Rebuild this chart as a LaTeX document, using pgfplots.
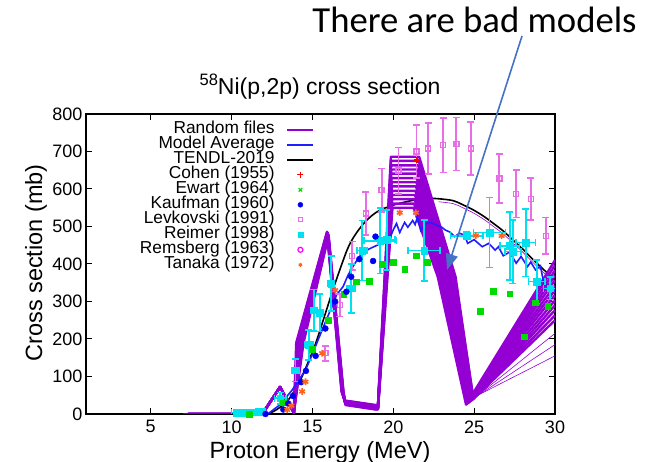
\documentclass[border=0pt]{standalone}
\usepackage{pgfplots}
\pgfplotsset{compat=1.18}
\usepackage{fontspec}
\setmainfont{Liberation Sans}
\newfontfamily\carlito{Carlito}
\usetikzlibrary{arrows.meta}
\definecolor{rfviolet}{RGB}{148,0,211}
\definecolor{mavg}{RGB}{30,30,255}
\definecolor{levk}{RGB}{232,110,232}
\definecolor{reim}{RGB}{0,225,240}
\definecolor{ewart}{RGB}{0,220,0}
\definecolor{kauf}{RGB}{0,0,240}
\definecolor{rems}{RGB}{255,0,255}
\definecolor{tanaka}{RGB}{255,100,30}
\definecolor{cohen}{RGB}{255,0,0}
\definecolor{arrowblue}{RGB}{68,114,196}

\pgfplotstableread{
x y e
15.8 162 20
16.7 290 30
17.45 422 38
18.3 535 57
19.28 597 58
20.32 649 62
21.43 700 70
22.16 708 68
23.08 717 73
23.9 720 71
24.8 708 71
26.56 628 65
27.6 587 63
28.5 573 56
29.44 475 49
}\levktab

\pgfplotstableread{
x y ex ey
10.3 4 0.3 5
10.8 4 0.3 5
11.3 5 0.3 5
11.8 6 0.3 5
13.0 42 0.35 15
13.95 117 0.2 30
14.77 184 0.25 40
15.08 277 0.15 55
15.45 270 0.15 50
16.17 348 0.2 73
17.4 335 0.25 65
18.07 436 0.3 80
19.2 462 1.0 87
19.6 464 0.5 80
21.9 436 1.0 82
24.55 475 1.0 10
25.95 484 1.0 93
27.2 448 0.6 90
27.4 433 0.5 85
28.2 457 0.6 90
28.87 353 0.5 58
29.7 335 0.4 30
}\reimtab

\begin{document}
\begin{tikzpicture}
\useasboundingbox (0,0) rectangle (666pt,462pt);
\begin{axis}[
  at={(86pt,48pt)}, anchor=south west,
  scale only axis, width=469pt, height=300pt,
  xmin=1, xmax=30, ymin=0, ymax=800,
  xtick={5,10,...,30}, ytick={0,100,...,800},
  tick align=inside, major tick length=6pt,
  axis line style={line width=1.2pt},
  every tick/.style={black, line width=1pt},
  tick label style={font=\fontsize{18}{18}\selectfont},
  /pgf/number format/assume math mode=true,
  x tick label style={yshift=-3pt},
  legend cell align=right, legend plot pos=right,
  legend style={at={(0.487,0.973)}, anchor=north east, draw=none, fill=none,
    font=\fontsize{17.3}{17.3}\selectfont, inner sep=0pt, row sep=0pt, column sep=12pt,
    nodes={inner sep=0pt, text height=11pt, text depth=4pt}},
  legend image code/.code={\draw[mark repeat=2,mark phase=2,#1] plot coordinates {(0pt,0pt) (13pt,0pt) (26pt,0pt)};},
]
\addlegendimage{rfviolet, line width=1.6pt}
\addlegendentry{Random files}
\addlegendimage{mavg, line width=1.6pt}
\addlegendentry{Model Average}
\addlegendimage{black, line width=1.6pt}
\addlegendentry{TENDL-2019}
\addlegendimage{only marks, mark=+, mark size=3pt, cohen, line width=1.2pt}
\addlegendentry{Cohen (1955)}
\addlegendimage{only marks, mark=x, mark size=2.5pt, ewart, line width=1.2pt}
\addlegendentry{Ewart (1964)}
\addlegendimage{only marks, mark=*, mark size=2.5pt, kauf}
\addlegendentry{Kaufman (1960)}
\addlegendimage{only marks, mark=square, mark size=2.2pt, levk, line width=1pt}
\addlegendentry{Levkovski (1991)}
\addlegendimage{only marks, mark=square*, mark size=2.5pt, reim}
\addlegendentry{Reimer (1998)}
\addlegendimage{only marks, mark=o, mark size=2.5pt, rems, line width=1.2pt}
\addlegendentry{Remsberg (1963)}
\addlegendimage{only marks, mark=asterisk, mark size=2pt, tanaka, line width=1pt}
\addlegendentry{Tanaka (1972)}

% TENDL-2019
\addplot[forget plot, black, line width=1.6pt, smooth] coordinates {
(7,0)(12,0)(12.5,5)(13.0,18)(13.5,37)(14.0,70)(14.36,100)(14.8,145)(15.2,188)(15.8,268)(16.4,348)(17.14,437)(17.6,475)(18.17,508)(18.7,530)(19.2,544)(20,557)(20.8,566)(21.5,572)(22.1,575)(22.8,574)(23.7,569)(24.3,558)(24.96,544)(25.6,527)(26.2,508)(26.8,488)(27.4,464)(28.0,440)(28.66,411)(29.3,385)(30,357)};

% Random files
\pgfplotsset{rf/.style={forget plot, rfviolet, line width=2.4pt, line join=round}}
\addplot[rf] coordinates {(7.3,0)(11.9,0)(13.0,72)(13.85,4)(14.00,190)(15.90,486)(16.80,60)(17.00,36)(18.9,24)(19.05,20)(19.85,686)(21.60,686)(23.85,366)(24.95,40)(30,250)};
\addplot[rf] coordinates {(7.3,0)(11.9,0)(13.0,72)(13.85,4)(14.04,190)(15.91,485)(16.81,60)(17.00,35)(18.9,23)(19.05,19)(19.86,675)(21.57,675)(23.76,366)(24.91,39)(30,263)};
\addplot[rf] coordinates {(7.3,0)(11.9,0)(13.0,72)(13.85,4)(14.08,190)(15.92,484)(16.82,60)(17.01,34)(18.9,22)(19.05,19)(19.87,663)(21.54,663)(23.67,366)(24.88,38)(30,277)};
\addplot[rf] coordinates {(7.3,0)(11.9,0)(13.0,72)(13.85,4)(14.11,190)(15.93,484)(16.83,60)(17.01,33)(18.9,21)(19.05,18)(19.88,652)(21.51,652)(23.58,366)(24.84,36)(30,290)};
\addplot[rf] coordinates {(7.3,0)(11.9,0)(13.0,72)(13.85,4)(14.15,190)(15.93,483)(16.84,60)(17.02,32)(18.9,20)(19.05,17)(19.88,641)(21.48,641)(23.48,366)(24.80,35)(30,303)};
\addplot[rf] coordinates {(7.3,0)(11.9,0)(13.0,72)(13.85,4)(14.19,190)(15.94,482)(16.85,60)(17.02,31)(18.9,19)(19.05,17)(19.89,629)(21.45,629)(23.39,366)(24.76,34)(30,317)};
\addplot[rf] coordinates {(7.3,0)(11.9,0)(13.0,72)(13.85,4)(14.23,190)(15.95,481)(16.86,60)(17.03,30)(18.9,18)(19.05,16)(19.90,618)(21.43,618)(23.30,366)(24.73,33)(30,330)};
\addplot[rf] coordinates {(7.3,0)(11.9,0)(13.0,72)(13.85,4)(14.26,190)(15.96,480)(16.87,60)(17.03,29)(18.9,17)(19.05,15)(19.91,607)(21.40,607)(23.21,366)(24.69,31)(30,343)};
\addplot[rf] coordinates {(7.3,0)(11.9,0)(13.0,72)(13.85,4)(14.30,190)(15.97,479)(16.88,60)(17.03,28)(18.9,16)(19.05,15)(19.92,595)(21.37,595)(23.12,366)(24.65,30)(30,357)};
\addplot[rf] coordinates {(7.3,0)(11.9,0)(13.0,72)(13.85,4)(14.34,190)(15.98,479)(16.89,60)(17.04,27)(18.9,15)(19.05,14)(19.93,584)(21.34,584)(23.03,366)(24.61,29)(30,370)};
\addplot[rf] coordinates {(7.3,0)(11.9,0)(13.0,72)(13.85,4)(14.38,190)(15.98,478)(16.90,60)(17.04,26)(18.9,14)(19.05,13)(19.93,573)(21.31,573)(22.93,366)(24.58,28)(30,383)};
\addplot[rf] coordinates {(7.3,0)(11.9,0)(13.0,72)(13.85,4)(14.41,190)(15.99,477)(16.91,60)(17.05,25)(18.9,13)(19.05,13)(19.94,561)(21.28,561)(22.84,366)(24.54,26)(30,397)};
\addplot[rf] coordinates {(7.3,0)(11.9,0)(13.0,72)(13.85,4)(14.45,190)(16.00,476)(16.92,60)(17.05,24)(18.9,12)(19.05,12)(19.95,550)(21.25,550)(22.75,366)(24.50,25)(30,410)};
% thin outliers
\addplot[forget plot, rfviolet, line width=0.6pt] coordinates {(21.6,686)(23.85,366)(24.95,40)(30,215)};
\addplot[forget plot, rfviolet, line width=0.6pt] coordinates {(21.6,686)(23.85,366)(24.97,42)(30,185)};
\addplot[forget plot, rfviolet, line width=0.6pt] coordinates {(21.6,686)(23.85,366)(25.0,45)(30,155)};
\addplot[forget plot, rfviolet, line width=0.6pt, smooth] coordinates {(22.8,566)(23.7,561)(24.3,550)(24.96,536)(25.6,519)(26.2,500)(26.8,480)(27.4,456)(28.0,432)(28.66,403)(29.3,377)(30,349)};

% Model Average
\addplot[forget plot, mavg, line width=1.6pt] coordinates {
(7,0)(12,0)(12.3,2)(13,25)(13.75,64)(14.57,117)(15.0,160)(15.6,224)(16.2,286)(16.5,318)(16.9,340)(17.2,370)(17.6,400)(18.0,425)(18.5,440)(19.0,450)(19.5,462)(19.8,470)(20.0,491)(20.2,508)(20.4,484)(20.7,511)(20.9,498)(21.2,516)(21.35,505)(21.5,526)(21.7,489)(22.0,507)(22.3,511)(22.7,503)(23.0,498)(23.2,491)(23.5,485)(23.8,473)(24.1,482)(24.4,477)(24.6,455)(25.0,465)(25.5,446)(25.9,455)(26.3,437)(26.5,446)(26.8,422)(27.2,432)(27.6,402)(27.9,420)(28.3,393)(28.5,405)(28.8,384)(29.1,395)(29.3,350)(29.6,340)(30,330)};

% Levkovski
\addplot[forget plot, only marks, mark=square, mark size=2.5pt, color=levk, line width=1.3pt,
  error bars/y dir=both, error bars/y explicit,
  error bars/error mark=-,
  error bars/error bar style={color=levk, line width=1.8pt, solid, opacity=1},
  error bars/error mark options={rotate=90, color=levk, line width=1.6pt, mark size=3.5pt}]
  table[x=x, y=y, y error=e] {\levktab};
% Reimer
\addplot[forget plot, only marks, mark=square*, mark size=3.3pt, color=reim,
  error bars/x dir=both, error bars/x explicit,
  error bars/y dir=both, error bars/y explicit,
  error bars/error mark=-,
  error bars/error bar style={color=reim, line width=1.7pt, solid, opacity=1},
  error bars/error mark options={rotate=90, color=reim, line width=1.6pt, mark size=3.5pt}]
  table[x=x, y=y, x error=ex, y error=ey] {\reimtab};
% Ewart
\addplot[forget plot, only marks, mark=square*, mark size=2.9pt, ewart] coordinates {
(11.1,0)(13.2,30)(15.0,172)(16.0,251)(16.93,319)(17.7,353)(18.5,355)(19.3,400)(20.0,404)(20.7,387)(21.4,422)(22.1,404)(25.37,275)(26.2,328)(27.2,321)(28.1,206)(28.8,297)(29.55,288)};
% Kaufman
\addplot[forget plot, only marks, mark=*, mark size=3pt, kauf] coordinates {
(12.1,0)(13.2,12)(13.5,28)(13.8,48)(14.3,85)(14.6,115)(15.2,155)(15.8,228)(16.4,300)(17.1,326)(17.4,366)(17.9,413)(18.75,408)(18.9,473)};
% Tanaka
\addplot[forget plot, only marks, mark=asterisk, mark size=3.3pt, tanaka, line width=1.6pt] coordinates {
(13.44,11)(13.7,22)(14.36,60)(14.57,86)(15.6,162)(16.4,330)(20.4,537)(21.4,537)(25.1,476)(26.7,475)};
% Cohen
\addplot[forget plot, only marks, mark=+, mark size=3.3pt, cohen, line width=1.6pt] coordinates {(21.46,677)};
\end{axis}

\node[anchor=base] at (320pt,367pt) {\raisebox{9pt}{\fontsize{16.5}{16.5}\selectfont 58}\fontsize{23}{23}\selectfont Ni(p,2p) cross section};
\node[rotate=90] at (36pt,199pt) {\fontsize{23.5}{23.5}\selectfont Cross section (mb)};
\node[anchor=base] at (320pt,3.5pt) {\fontsize{23.5}{23.5}\selectfont Proton Energy (MeV)};
\node[anchor=base] at (474.5pt,429.5pt) {\carlito\fontsize{36.7}{36.7}\selectfont There are bad models};
\draw[arrowblue, line width=1.6pt, -{Triangle[length=16pt,width=12pt]}] (522pt,426pt) -- (447pt,192pt);
\end{tikzpicture}
\end{document}
